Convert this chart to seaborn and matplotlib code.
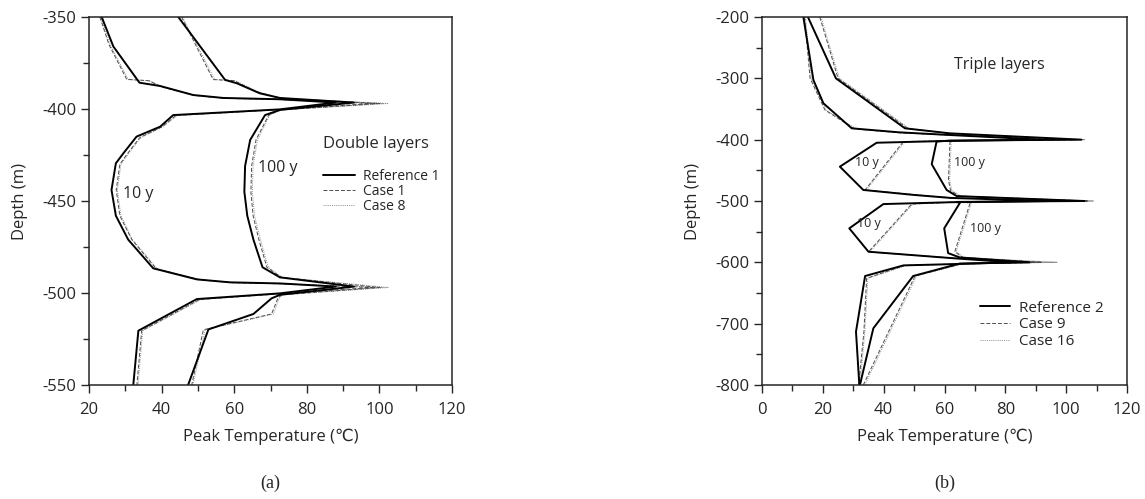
import numpy as np
import pandas as pd
import seaborn as sns
import matplotlib.pyplot as plt
from matplotlib.ticker import MultipleLocator
from matplotlib.lines import Line2D

# ---- (a) double layers ----
ref1_10y_T = [23.5, 26.7, 33.9, 39.6, 48.7, 57.0, 72.6, 88.0, 72.6, 43.2, 39.6, 33.1, 29.5, 27.4, 26.2, 27.4, 30.8, 37.7, 49.7, 58.8, 72.6, 88.0, 72.6, 49.7, 33.6, 32.2]
ref1_10y_D = [-350, -366, -385.7, -387.5, -392.4, -394, -394.7, -396.5, -400.2, -403.3, -409.6, -415, -424, -429.5, -444, -458, -471, -486.6, -492.6, -494.2, -494.8, -496.5, -500.2, -503.3, -520.5, -550]
ref1_100y_T = [44.6, 57.5, 60.7, 67.1, 72.6, 93.0, 72.6, 68.5, 64.4, 63.0, 62.8, 63.6, 65.3, 67.8, 72.6, 93.0, 72.6, 70.3, 65.3, 52.9, 47.3]
ref1_100y_D = [-350, -384.2, -386, -391.5, -394, -396.5, -400.5, -403.3, -416.8, -431, -445, -458, -471, -486, -491.5, -496.5, -501, -502.9, -511.4, -519.8, -550]

case1_10y_T = [23.0, 25.5, 30.4, 36.4, 40.0, 49.0, 57.5, 73.0, 98.0, 73.0, 44.0, 40.0, 34.0, 30.5, 28.5, 27.5, 28.5, 31.8, 38.5, 50.5, 59.5, 73.0, 98.0, 73.0, 50.5, 34.5, 33.2]
case1_10y_D = [-350, -365, -383.9, -384.6, -388, -392.6, -394.2, -394.9, -397, -400.3, -403.5, -409.8, -415.5, -424.5, -430, -444, -458, -471, -486.8, -492.8, -494.4, -495, -497, -500.4, -503.5, -520.5, -550]
case1_100y_T = [45.5, 54.2, 60.0, 66.0, 72.8, 100.0, 72.8, 69.5, 66.0, 64.8, 64.6, 65.2, 66.8, 69.0, 73.0, 100.0, 73.0, 72.0, 70.3, 51.5, 48.3]
case1_100y_D = [-350, -384, -384.6, -390.5, -394.2, -397, -400.5, -403.3, -416.8, -431, -445, -458, -471, -486, -491.5, -497, -501, -503, -511.4, -520, -550]

case8_10y_T = [23.2, 25.8, 30.8, 36.8, 40.3, 49.3, 57.8, 73.2, 101.0, 73.2, 44.3, 40.3, 34.3, 30.8, 28.8, 27.8, 28.8, 32.0, 38.8, 50.8, 59.8, 73.2, 101.0, 73.2, 50.8, 34.8, 33.5]
case8_10y_D = [-350, -365, -384.0, -384.7, -388, -392.6, -394.2, -394.9, -397, -400.3, -403.5, -409.8, -415.5, -424.5, -430, -444, -458, -471, -486.8, -492.8, -494.4, -495, -497, -500.4, -503.5, -520.5, -550]
case8_100y_T = [45.8, 54.6, 60.3, 66.3, 73.0, 102.5, 73.0, 69.8, 66.4, 65.2, 65.0, 65.6, 67.2, 69.4, 73.2, 102.5, 73.2, 72.4, 70.8, 52.0, 48.6]
case8_100y_D = [-350, -384, -384.6, -390.5, -394.2, -397, -400.5, -403.3, -416.8, -431, -445, -458, -471, -486, -491.5, -497, -501, -503, -511.4, -520, -550]

# ---- (b) triple layers ----
ref2_10y_T = [13.6, 16.9, 20.2, 29.5, 45.0, 61.8, 92.0, 61.8, 37.7, 25.6, 33.3, 49.7, 62.0, 95.0, 62.0, 39.9, 28.7, 35.0, 62.0, 82.0, 62.0, 46.5, 33.9, 30.9, 32.0]
ref2_10y_D = [-200, -302.7, -340.8, -381.5, -388, -392.4, -400, -402, -405, -444, -482, -490, -495, -500, -502, -505, -544.6, -582.7, -593, -600, -603, -605, -622.3, -713, -800]
ref2_100y_T = [15.1, 24.3, 47.0, 61.8, 105.0, 61.8, 57.4, 55.8, 60.7, 64.0, 106.0, 64.0, 65.1, 59.9, 61.2, 65.0, 88.0, 65.0, 49.7, 36.6, 32.2]
ref2_100y_D = [-200, -300, -381.5, -389.7, -400, -401.5, -403, -440, -482, -492, -500, -501.5, -502.8, -544.6, -585, -592, -600, -602, -622.3, -707.6, -800]

case9_10y_T = [14.0, 15.8, 20.7, 30.5, 46.0, 62.0, 103.0, 62.0, 46.5, 33.9, 50.5, 62.5, 107.0, 62.5, 49.2, 35.0, 62.5, 92.0, 62.5, 47.0, 34.4, 33.5, 31.8]
case9_10y_D = [-200, -300, -351.6, -382.5, -389, -392.6, -400, -402, -403, -482, -490, -495, -500, -502, -505, -583, -593, -600, -603, -605, -626, -713, -800]
case9_100y_T = [19.0, 25.0, 48.0, 62.0, 103.0, 62.0, 61.8, 61.3, 62.0, 65.0, 107.0, 65.0, 68.4, 63.4, 66.0, 92.0, 66.0, 50.3, 33.3]
case9_100y_D = [-200, -300, -382, -390, -400, -401.5, -403, -465.8, -483, -492, -500, -501.5, -503.3, -582.7, -592, -600, -602, -622.3, -800]

case16_10y_T = [14.3, 16.2, 21.0, 31.0, 46.5, 62.3, 106.0, 62.3, 47.0, 34.3, 51.0, 63.0, 109.0, 63.0, 49.6, 35.4, 63.0, 97.0, 63.0, 47.5, 34.8, 33.8, 32.2]
case16_10y_D = [-200, -300, -351.6, -382.5, -389, -392.6, -400, -402, -403, -482, -490, -495, -500, -502, -505, -583, -593, -600, -603, -605, -626, -713, -800]
case16_100y_T = [19.4, 25.4, 48.5, 62.3, 106.0, 62.3, 62.2, 61.7, 62.4, 65.4, 109.0, 65.4, 68.8, 63.8, 66.4, 97.0, 66.4, 50.8, 33.8]
case16_100y_D = [-200, -300, -382, -390, -400, -401.5, -403, -465.8, -483, -492, -500, -501.5, -503.3, -582.7, -592, -600, -602, -622.3, -800]

FONT = ['Open Sans', 'DejaVu Sans']
sns.set_style('ticks')
plt.rcParams['font.family'] = FONT
plt.rcParams['axes.unicode_minus'] = False

styles = {
    'ref': dict(color='black', lw=1.4, ls='-'),
    'dash': dict(color='0.3', lw=0.7, ls=(0, (4, 2))),
    'dot': dict(color='0.55', lw=0.7, ls=(0, (1, 1.2))),
}


def draw(ax, T, D, kind):
    df = pd.DataFrame({'T': T, 'D': D})
    st = styles[kind]
    sns.lineplot(data=df, x='T', y='D', sort=False, estimator=None, ax=ax,
                 color=st['color'], linewidth=st['lw'], linestyle=st['ls'])


fig = plt.figure(figsize=(11.45, 4.99), dpi=100)
ax1 = fig.add_axes([89 / 1145, 114 / 499, 363 / 1145, 368 / 499])
ax2 = fig.add_axes([762 / 1145, 114 / 499, 365 / 1145, 368 / 499])

draw(ax1, case8_10y_T, case8_10y_D, 'dot')
draw(ax1, case8_100y_T, case8_100y_D, 'dot')
draw(ax1, case1_10y_T, case1_10y_D, 'dash')
draw(ax1, case1_100y_T, case1_100y_D, 'dash')
draw(ax1, ref1_10y_T, ref1_10y_D, 'ref')
draw(ax1, ref1_100y_T, ref1_100y_D, 'ref')

draw(ax2, case16_10y_T, case16_10y_D, 'dot')
draw(ax2, case16_100y_T, case16_100y_D, 'dot')
draw(ax2, case9_10y_T, case9_10y_D, 'dash')
draw(ax2, case9_100y_T, case9_100y_D, 'dash')
draw(ax2, ref2_10y_T, ref2_10y_D, 'ref')
draw(ax2, ref2_100y_T, ref2_100y_D, 'ref')

ax1.set_xlim(20, 120)
ax1.set_ylim(-550, -350)
ax1.yaxis.set_major_locator(MultipleLocator(50))
ax1.yaxis.set_minor_locator(MultipleLocator(25))
ax2.set_xlim(0, 120)
ax2.set_ylim(-800, -200)
ax2.yaxis.set_major_locator(MultipleLocator(100))
ax2.yaxis.set_minor_locator(MultipleLocator(50))

for ax in (ax1, ax2):
    ax.xaxis.set_major_locator(MultipleLocator(20))
    ax.xaxis.set_minor_locator(MultipleLocator(10))
    ax.tick_params(which='both', direction='out', top=False, right=False, labelsize=12, width=1)
    ax.tick_params(which='major', length=6, pad=3)
    ax.tick_params(axis='x', which='major', pad=6)
    ax.tick_params(which='minor', length=4)
    for s in ax.spines.values():
        s.set_linewidth(1.1)
    ax.set_xlabel('Peak Temperature (℃)', fontsize=12, labelpad=8)
    ax.set_ylabel('Depth (m)', fontsize=12, labelpad=10)

hd = [Line2D([], [], color='black', lw=1.4),
      Line2D([], [], color='0.3', lw=0.7, ls=(0, (4, 2))),
      Line2D([], [], color='0.55', lw=0.7, ls=(0, (1, 1.2)))]

ax1.legend(hd, ['Reference 1', 'Case 1', 'Case 8'], loc='upper left',
           bbox_to_anchor=(0.625, 0.605), frameon=False, fontsize=10,
           handlelength=2.3, handletextpad=0.6, labelspacing=0.0, borderpad=0)
ax1.text(0.645, 0.655, 'Double layers', transform=ax1.transAxes, fontsize=12, va='center')
ax1.text(0.095, 0.52, '10 y', transform=ax1.transAxes, fontsize=11.5, va='center')
ax1.text(0.465, 0.59, '100 y', transform=ax1.transAxes, fontsize=11.5, va='center')

ax2.legend(hd, ['Reference 2', 'Case 9', 'Case 16'], loc='upper left',
           bbox_to_anchor=(0.575, 0.25), frameon=False, fontsize=11,
           handlelength=2.0, handletextpad=0.6, labelspacing=0.12, borderpad=0)
ax2.text(0.525, 0.87, 'Triple layers', transform=ax2.transAxes, fontsize=11.5, va='center')
ax2.text(0.255, 0.605, '10 y', transform=ax2.transAxes, fontsize=9, va='center')
ax2.text(0.525, 0.605, '100 y', transform=ax2.transAxes, fontsize=9, va='center')
ax2.text(0.26, 0.44, '10 y', transform=ax2.transAxes, fontsize=9, va='center')
ax2.text(0.57, 0.425, '100 y', transform=ax2.transAxes, fontsize=9, va='center')

fig.text(270 / 1145, 1 - 483 / 499, '(a)', family='Liberation Serif', fontsize=13, ha='center', va='center')
fig.text(945 / 1145, 1 - 483 / 499, '(b)', family='Liberation Serif', fontsize=13, ha='center', va='center')

fig.savefig('out.png', dpi=100)
